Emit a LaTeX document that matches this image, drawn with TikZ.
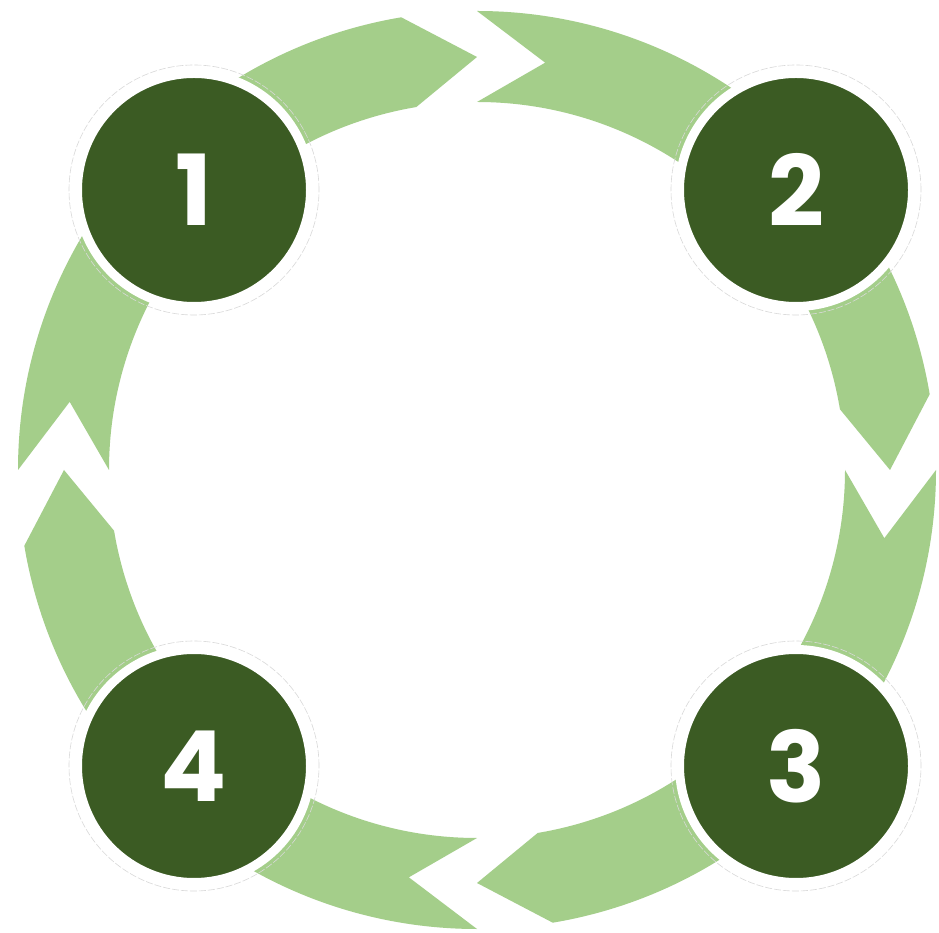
\documentclass[tikz,border=0pt]{standalone}
\usepackage{fontspec}
\newfontfamily\numfont{Poppins}
\usetikzlibrary{positioning}
\definecolor{ringgreen}{RGB}{164,206,138}
\definecolor{darkgreen}{RGB}{59,91,35}

\begin{document}
\begin{tikzpicture}[
    x=1pt, y=1pt,
    phase/.style={circle, fill=darkgreen, draw=white, line width=9pt,
        minimum size=233pt, inner sep=0pt, text=white,
        font=\numfont\bfseries\fontsize{98}{98}\selectfont},
    halo/.style={draw=black!15, line width=0.6pt, dash pattern=on 7pt off 2pt}
]
\useasboundingbox (0,0) rectangle (939,932);
\fill[white] (0,0) rectangle (939,932);

% Ring Arrows - clockwise, one quarter each
\begin{scope}[shift={(477,462)}, fill=ringgreen]
% top left: 1 -> 2
\fill (180:459pt) arc[start angle=180, end angle=99.5, radius=459pt]
    -- (90:413pt) -- (99.5:368pt)
    arc[start angle=99.5, end angle=180, radius=368pt]
    -- (170.5:413pt) -- cycle;
% top right: 2 -> 3
\fill (90:459pt) arc[start angle=90, end angle=9.5, radius=459pt]
    -- (0:413pt) -- (9.5:368pt)
    arc[start angle=9.5, end angle=90, radius=368pt]
    -- (80.5:413pt) -- cycle;
% bottom right: 3 -> 4
\fill (0:459pt) arc[start angle=0, end angle=-80.5, radius=459pt]
    -- (-90:413pt) -- (-80.5:368pt)
    arc[start angle=-80.5, end angle=0, radius=368pt]
    -- (-9.5:413pt) -- cycle;
% bottom left: 4 -> 1
\fill (-90:459pt) arc[start angle=-90, end angle=-170.5, radius=459pt]
    -- (-180:413pt) -- (-170.5:368pt)
    arc[start angle=-170.5, end angle=-90, radius=368pt]
    -- (-99.5:413pt) -- cycle;
\end{scope}

% Phase Circles
\node[phase] (phase1) at (194,742) {1};
\node[phase] (phase2) at (796,742) {2};
\node[phase] (phase3) at (796,166) {3};
\node[phase] (phase4) at (194,166) {4};

% Outer rings
\draw[halo] (phase1) circle[radius=125pt];
\draw[halo] (phase2) circle[radius=125pt];
\draw[halo] (phase3) circle[radius=125pt];
\draw[halo] (phase4) circle[radius=125pt];

\end{tikzpicture}
\end{document}
